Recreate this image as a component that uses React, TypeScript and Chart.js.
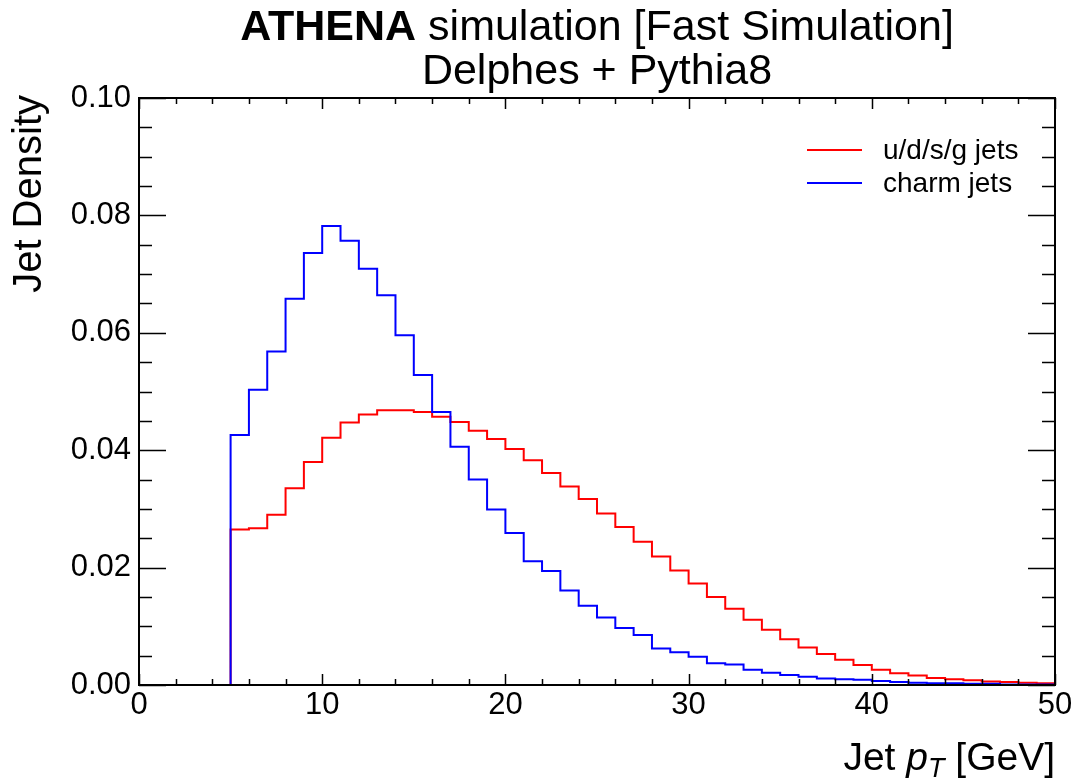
import React, { useEffect, useRef } from "react";
import { Chart, registerables } from "chart.js";

Chart.register(...registerables);

const FONT = "'Liberation Sans', Arial, Helvetica, sans-serif";

// Low edges of the 1 GeV bins
const binEdges = [
  5, 6, 7, 8, 9, 10, 11, 12, 13, 14, 15, 16, 17, 18, 19, 20, 21, 22, 23, 24, 25, 26, 27,
  28, 29, 30, 31, 32, 33, 34, 35, 36, 37, 38, 39, 40, 41, 42, 43, 44, 45, 46, 47, 48, 49,
];
const binUpperEnd = 50;

const udsgJets = [
  0.0265, 0.0267, 0.029, 0.0335, 0.038, 0.0421, 0.0447, 0.0461, 0.0468, 0.0468, 0.0465,
  0.0457, 0.0448, 0.0433, 0.0419, 0.0402, 0.0383, 0.0361, 0.0338, 0.0317, 0.0292, 0.0269,
  0.0244, 0.0219, 0.0195, 0.0173, 0.015, 0.013, 0.0111, 0.0094, 0.0078, 0.0064, 0.0053,
  0.0043, 0.0034, 0.0026, 0.002, 0.0016, 0.0012, 0.001, 0.0008, 0.0006, 0.0005, 0.0004,
  0.0003,
];

const charmJets = [
  0.0426, 0.0503, 0.0568, 0.0658, 0.0736, 0.0782, 0.0757, 0.0709, 0.0664, 0.0596, 0.0528,
  0.0465, 0.0406, 0.035, 0.0299, 0.0259, 0.0211, 0.0194, 0.0161, 0.0135, 0.0115, 0.0097,
  0.0085, 0.0062, 0.0056, 0.0048, 0.0037, 0.0035, 0.0026, 0.0021, 0.0017, 0.0014, 0.0011,
  0.001, 0.0009, 0.0007, 0.0005, 0.0004, 0.0003, 0.0003, 0.0002, 0.0002, 0.0001, 0.0001,
  0.0001,
];

const seriesLabels = ["u/d/s/g jets", "charm jets"];
const seriesColors = ["#ff0000", "#0000ff"];

const xMajorTicks = [0, 10, 20, 30, 40, 50];
const yMajorTicks = [0, 0.02, 0.04, 0.06, 0.08, 0.1];

function histPoints(values: number[]) {
  const pts: { x: number; y: number }[] = [{ x: binEdges[0], y: 0 }];
  binEdges.forEach((e, i) => pts.push({ x: e, y: values[i] }));
  pts.push({ x: binUpperEnd, y: values[values.length - 1] });
  pts.push({ x: binUpperEnd, y: 0 });
  return pts;
}

const decorPlugin = {
  id: "rootDecor",
  afterDraw(chart: any) {
    const ctx = chart.ctx as CanvasRenderingContext2D;
    const { left, right, top, bottom } = chart.chartArea;
    const xs = chart.scales.x;
    const ys = chart.scales.y;
    ctx.save();
    ctx.strokeStyle = "#000";
    ctx.lineWidth = 1.5;
    // ticks
    ctx.beginPath();
    for (let v = 0; v <= 50.0001; v += 2) {
      const px = Math.round(xs.getPixelForValue(v)) + 0.5;
      const major = Math.abs(v % 10) < 1e-6;
      const len = major ? 11 : 6;
      ctx.moveTo(px, bottom);
      ctx.lineTo(px, bottom - len);
      ctx.moveTo(px, top);
      ctx.lineTo(px, top + len);
    }
    for (let i = 0; i <= 20; i++) {
      const v = i * 0.005;
      const py = Math.round(ys.getPixelForValue(v)) + 0.5;
      const major = i % 4 === 0;
      const len = major ? 27 : 13;
      ctx.moveTo(left, py);
      ctx.lineTo(left + len, py);
      ctx.moveTo(right, py);
      ctx.lineTo(right - len, py);
    }
    ctx.stroke();
    // frame
    ctx.lineWidth = 2;
    ctx.strokeRect(left, top, right - left, bottom - top);

    ctx.fillStyle = "#000";
    // Title
    const cx = (left + right) / 2;
    const tSize = 43;
    const boldPart = "ATHENA";
    const restPart = " simulation [Fast Simulation]";
    ctx.font = `bold ${tSize}px ${FONT}`;
    const wb = ctx.measureText(boldPart).width;
    ctx.font = `${tSize}px ${FONT}`;
    const wr = ctx.measureText(restPart).width;
    const sx = cx - (wb + wr) / 2;
    ctx.textBaseline = "alphabetic";
    ctx.textAlign = "left";
    ctx.font = `bold ${tSize}px ${FONT}`;
    ctx.fillText(boldPart, sx, 40);
    ctx.font = `${tSize}px ${FONT}`;
    ctx.fillText(restPart, sx + wb, 40);
    ctx.textAlign = "center";
    ctx.fillText("Delphes + Pythia8", cx, 84);

    // Y title
    ctx.save();
    ctx.translate(41, top - 3);
    ctx.rotate(-Math.PI / 2);
    ctx.textAlign = "right";
    ctx.font = `40px ${FONT}`;
    ctx.fillText("Jet Density", 0, 0);
    ctx.restore();

    // X title: Jet p_T [GeV]
    const aSize = 39;
    const parts = [
      { t: "Jet ", f: `${aSize}px ${FONT}`, dy: 0 },
      { t: "p", f: `italic ${aSize}px ${FONT}`, dy: 0 },
      { t: "T", f: `italic ${Math.round(aSize * 0.7)}px ${FONT}`, dy: 7 },
      { t: " [GeV]", f: `${aSize}px ${FONT}`, dy: 0 },
    ];
    let total = 0;
    const widths = parts.map((p) => {
      ctx.font = p.f;
      const w = ctx.measureText(p.t).width;
      total += w;
      return w;
    });
    let ax = right - total;
    ctx.textAlign = "left";
    parts.forEach((p, i) => {
      ctx.font = p.f;
      ctx.fillText(p.t, ax, 770 + p.dy);
      ax += widths[i];
    });

    // Legend
    ctx.font = `28px ${FONT}`;
    ctx.textBaseline = "middle";
    chart.data.datasets.forEach((ds: any, i: number) => {
      const ly = 150 + i * 33;
      ctx.strokeStyle = ds.borderColor;
      ctx.lineWidth = 2;
      ctx.beginPath();
      ctx.moveTo(807, ly);
      ctx.lineTo(862, ly);
      ctx.stroke();
      ctx.fillStyle = "#000";
      ctx.fillText(ds.label, 883, ly + 1);
    });
    ctx.restore();
  },
};

export default function App() {
  const ref = useRef<HTMLCanvasElement | null>(null);
  useEffect(() => {
    if (!ref.current) return;
    const chart = new Chart(ref.current, {
      type: "line",
      data: {
        datasets: [
          {
            label: seriesLabels[0],
            data: histPoints(udsgJets),
            borderColor: seriesColors[0],
            borderWidth: 2,
            pointRadius: 0,
            fill: false,
            stepped: true,
            order: 1,
          },
          {
            label: seriesLabels[1],
            data: histPoints(charmJets),
            borderColor: seriesColors[1],
            borderWidth: 2,
            pointRadius: 0,
            fill: false,
            stepped: true,
            order: 0,
          },
        ],
      },
      options: {
        animation: false,
        responsive: false,
        events: [],
        layout: { padding: { top: 98, right: 25, left: 0, bottom: 0 } },
        plugins: { legend: { display: false }, title: { display: false }, tooltip: { enabled: false } },
        scales: {
          x: {
            type: "linear",
            min: 0,
            max: 50,
            afterBuildTicks: (s: any) => {
              s.ticks = xMajorTicks.map((v) => ({ value: v }));
            },
            ticks: {
              font: { family: FONT, size: 31 },
              color: "#000",
              padding: 2,
              maxRotation: 0,
              autoSkip: false,
              callback: (v: any) => String(v),
            },
            grid: { display: false, drawTicks: false },
            border: { display: false },
            afterFit: (s: any) => {
              s.height = 99;
            },
          },
          y: {
            type: "linear",
            min: 0,
            max: 0.1,
            afterBuildTicks: (s: any) => {
              s.ticks = yMajorTicks.map((v) => ({ value: v }));
            },
            ticks: {
              font: { family: FONT, size: 31 },
              color: "#000",
              padding: 8,
              autoSkip: false,
              callback: (v: any) => Number(v).toFixed(2),
            },
            grid: { display: false, drawTicks: false },
            border: { display: false },
            afterFit: (s: any) => {
              s.width = 139;
            },
          },
        },
      },
      plugins: [decorPlugin],
    });
    return () => chart.destroy();
  }, []);
  return (
    <div style={{ position: "absolute", left: 0, top: 0, width: 1080, height: 784, background: "#fff" }}>
      <canvas ref={ref} width={1080} height={784} style={{ display: "block" }} />
    </div>
  );
}
